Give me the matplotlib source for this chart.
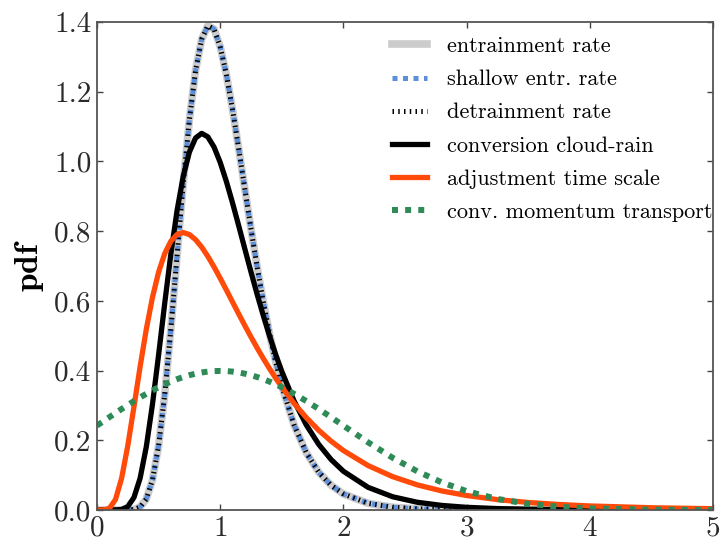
import matplotlib
matplotlib.use("Agg")
import matplotlib.pyplot as plt

# values
x = [0.0, 0.05, 0.1, 0.15, 0.2, 0.25, 0.3, 0.35, 0.4, 0.45, 0.5, 0.55, 0.6,
     0.65, 0.7, 0.75, 0.8, 0.85, 0.9, 0.95, 1.0, 1.05, 1.1, 1.15, 1.2, 1.25,
     1.3, 1.35, 1.4, 1.45, 1.5, 1.6, 1.7, 1.8, 1.9, 2.0, 2.2, 2.4, 2.6, 2.8,
     3.0, 3.25, 3.5, 3.75, 4.0, 4.5, 5.0]

entr = [0.0, 0.0, 0.0, 0.0, 0.0, 0.0001, 0.0014, 0.0083, 0.0313, 0.0855,
        0.1844, 0.332, 0.5202, 0.7295, 0.937, 1.1195, 1.2607, 1.3509, 1.3891,
        1.3795, 1.3298, 1.2499, 1.1494, 1.0374, 0.9213, 0.8068, 0.6977,
        0.5972, 0.5064, 0.4258, 0.3556, 0.2436, 0.1637, 0.1084, 0.0709,
        0.0461, 0.0191, 0.0078, 0.0032, 0.0013, 0.0005, 0.0002, 0.0001, 0.0,
        0.0, 0.0, 0.0]
shallow = entr
detr = entr

conv_rain = [0.0, 0.0, 0.0, 0.0001, 0.0015, 0.0098, 0.0358, 0.091, 0.1808,
             0.3023, 0.4444, 0.5937, 0.7356, 0.8591, 0.9573, 1.0267, 1.0672,
             1.0805, 1.0704, 1.0413, 0.9974, 0.9428, 0.8813, 0.8159, 0.7492,
             0.683, 0.6187, 0.5576, 0.5001, 0.4467, 0.3977, 0.3125, 0.2434,
             0.1882, 0.1448, 0.1111, 0.065, 0.0379, 0.0221, 0.013, 0.0076,
             0.004, 0.0021, 0.0011, 0.0006, 0.0002, 0.0001]

adj_time = [0.0, 0.0001, 0.0042, 0.0299, 0.0911, 0.1844, 0.2959, 0.4111,
            0.518, 0.6095, 0.6823, 0.7359, 0.7713, 0.7904, 0.796, 0.7902,
            0.7756, 0.7541, 0.7275, 0.6974, 0.6649, 0.6312, 0.5969, 0.5627,
            0.5291, 0.4964, 0.4648, 0.4346, 0.4058, 0.3785, 0.3527, 0.3058,
            0.2646, 0.2286, 0.1975, 0.1706, 0.1275, 0.0956, 0.072, 0.0545,
            0.0415, 0.0297, 0.0215, 0.0157, 0.0115, 0.0064, 0.0036]

momentum = [0.242, 0.254, 0.2661, 0.278, 0.2897, 0.3011, 0.3123, 0.3229,
            0.3332, 0.3429, 0.3521, 0.3605, 0.3683, 0.3753, 0.3814, 0.3867,
            0.391, 0.3945, 0.397, 0.3984, 0.3989, 0.3984, 0.397, 0.3945,
            0.391, 0.3867, 0.3814, 0.3753, 0.3683, 0.3605, 0.3521, 0.3332,
            0.3123, 0.2897, 0.2661, 0.242, 0.1942, 0.1497, 0.1109, 0.079,
            0.054, 0.0317, 0.0175, 0.0091, 0.0044, 0.0009, 0.0001]

labels = ["entrainment rate", "shallow entr. rate", "detrainment rate",
          "conversion cloud-rain", "adjustment time scale",
          "conv. momentum transport"]

plt.rcParams["font.family"] = "serif"
plt.rcParams["font.serif"] = ["cmr10", "DejaVu Serif"]
plt.rcParams["mathtext.fontset"] = "cm"
plt.rcParams["axes.formatter.use_mathtext"] = True

fig = plt.figure(figsize=(7.26, 5.46), dpi=100)
ax = fig.add_axes([0.1336, 0.066, 0.8484, 0.8937])

ax.plot(x, entr, color="#cccccc", lw=5.5, label=labels[0])
ax.plot(x, shallow, color="#5b8fdc", lw=3.6, dashes=(1, 1.1), label=labels[1])
ax.plot(x, detr, color="black", lw=3.6, dashes=(0.3, 0.85), label=labels[2])
ax.plot(x, conv_rain, color="black", lw=3.8, label=labels[3])
ax.plot(x, adj_time, color="#ff4a0a", lw=3.8, label=labels[4])
ax.plot(x, momentum, color="#2e8b57", lw=4.3, dashes=(1, 1.2), label=labels[5])

ax.set_xlim(0, 5)
ax.set_ylim(0, 1.4)
ax.set_xticks([0, 1, 2, 3, 4, 5])
ax.set_yticks([0.0, 0.2, 0.4, 0.6, 0.8, 1.0, 1.2, 1.4])
ax.set_yticklabels(["0.0", "0.2", "0.4", "0.6", "0.8", "1.0", "1.2", "1.4"])
ax.tick_params(direction="in", top=True, right=True, labelsize=21,
               length=4, width=1, colors="#444444", pad=4)
ax.tick_params(labelcolor="#2a2a2a")
for s in ax.spines.values():
    s.set_color("#555555")
    s.set_linewidth(1.3)

ax.set_ylabel(r"$\mathbf{pdf}$", fontsize=24, labelpad=6)

leg = ax.legend(loc="upper right", bbox_to_anchor=(1.0, 0.97),
                frameon=False, fontsize=16, handlelength=1.6,
                labelspacing=0.61, borderaxespad=0.0, borderpad=0.0,
                handletextpad=0.9)

fig.savefig("out.png", dpi=100)
